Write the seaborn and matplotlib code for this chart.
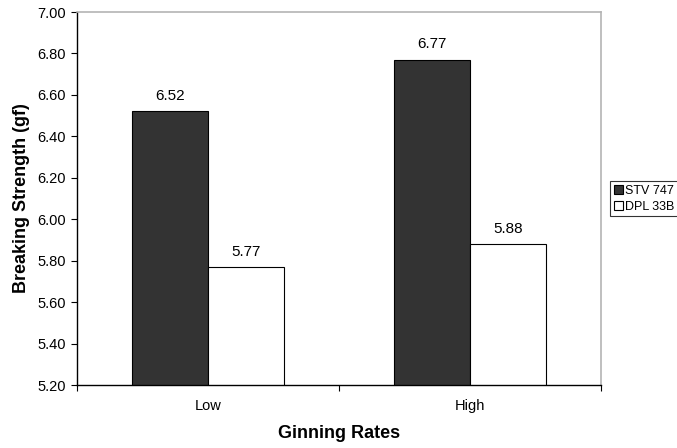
import matplotlib
matplotlib.use("Agg")
import matplotlib.pyplot as plt
import seaborn as sns
import pandas as pd
import numpy as np

# Breaking strength by ginning rate and cultivar
rates = ["Low", "High"]
cultivars = ["STV 747", "DPL 33B"]
stv_747 = [6.52, 6.77]
dpl_33b = [5.77, 5.88]
y_ticks = [5.20, 5.40, 5.60, 5.80, 6.00, 6.20, 6.40, 6.60, 6.80, 7.00]

df = pd.DataFrame({
    "rate": rates * 2,
    "cultivar": [cultivars[0]] * 2 + [cultivars[1]] * 2,
    "strength": stv_747 + dpl_33b,
})

sns.set_theme(style="white")
plt.rcParams["font.family"] = ["Liberation Sans", "DejaVu Sans"]
plt.rcParams.update({
    "text.color": "black",
    "axes.labelcolor": "black",
    "xtick.color": "black",
    "ytick.color": "black",
})

fig = plt.figure(figsize=(6.77, 4.48), dpi=100)
ax = fig.add_axes([77 / 677, 1 - 385 / 448, (601 - 77) / 677, (385 - 12) / 448])

sns.barplot(
    data=df, x="rate", y="strength", hue="cultivar",
    order=rates, hue_order=cultivars,
    palette=["#333333", "#ffffff"], edgecolor="black", linewidth=0.8,
    width=0.58, gap=0, saturation=1, ax=ax, legend=True,
)

for cont in ax.containers:
    ax.bar_label(cont, fmt="%.2f", padding=6, fontsize=11, color="black")

ax.set_ylim(y_ticks[0], y_ticks[-1])
ax.set_yticks(y_ticks)
ax.set_yticklabels([f"{v:.2f}" for v in y_ticks], fontsize=10.5)
ax.set_xlim(-0.5, 1.5)
ax.set_xticks([0, 1])
ax.set_xticklabels(rates, fontsize=10.5)
ax.set_xticks([-0.5, 0.5, 1.5], minor=True)
ax.tick_params(axis="x", which="major", length=0, pad=10)
ax.tick_params(axis="x", which="minor", length=4, width=0.8, color="black", direction="out", bottom=True)
ax.tick_params(axis="y", length=4, width=0.8, color="black", direction="out", left=True, pad=4)

ax.set_xlabel("Ginning Rates", fontsize=13, fontweight="bold", labelpad=9)
ax.set_ylabel("Breaking Strength (gf)", fontsize=13, fontweight="bold", labelpad=5)

for side in ["left", "bottom"]:
    ax.spines[side].set_color("black")
    ax.spines[side].set_linewidth(1.0)
for side in ["top", "right"]:
    ax.spines[side].set_color("#b4b4b4")
    ax.spines[side].set_linewidth(1.2)
ax.grid(False)

handles, labels = ax.get_legend_handles_labels()
ax.get_legend().remove()
leg = fig.legend(
    handles, labels, loc="upper left",
    bbox_to_anchor=(610 / 677, 1 - 181 / 448),
    fontsize=9, frameon=True, fancybox=False, edgecolor="black",
    handlelength=0.7, handleheight=0.7, handletextpad=0.2,
    borderpad=0.3, labelspacing=0.3, borderaxespad=0,
)
leg.get_frame().set_linewidth(0.8)

fig.savefig("out.png", dpi=100, facecolor="white")
